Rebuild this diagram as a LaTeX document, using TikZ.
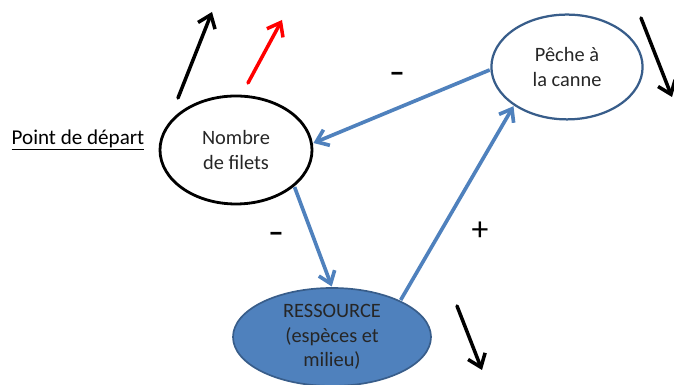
\documentclass[tikz,border=0pt]{standalone}
\usepackage{fontspec}
\setmainfont{Carlito}
\usetikzlibrary{arrows.meta,shapes.geometric}

\definecolor{linkblue}{HTML}{4F81BD}
\definecolor{rimblue}{HTML}{385D8A}

\tikzset{
    link/.style={ -{Straight Barb[length=8pt,width=12pt]}, line width=2.6pt, draw=linkblue, shorten <=0.5pt, shorten >=0.5pt,},
    trend/.style={ -{Straight Barb[length=8.5pt,width=13pt]}, line width=2.5pt, line cap=round,},
    bubble/.style={ ellipse, inner sep=0pt, align=center, text=black!85, font=\fontsize{14.5}{17.5}\selectfont,},
    sign/.style={ font=\fontsize{22}{22}\selectfont\bfseries,},
  }

\begin{document}
\begin{tikzpicture}
\useasboundingbox (0,0) rectangle (16.85,9.625);

% the three actors
  \node[bubble, draw=black, line width=2pt, minimum width=3.8cm, minimum height=2.7cm] (nombre) at (5.9,5.875) {Nombre\\de filets};
  \node[bubble, draw=rimblue, line width=1.6pt, minimum width=3.78cm, minimum height=2.62cm] (peche) at (14.175,7.95) {P\^eche \`a\\la canne};
  \node[bubble, draw=rimblue, fill=linkblue, line width=1.2pt, minimum width=4.95cm, minimum height=2.45cm] (ress) at (8.3,1.2) {RESSOURCE\\(esp\`eces et\\milieu)};

  \node[font=\fontsize{15}{18}\selectfont] (depart) at (1.95,6.125) {\underline{Point de d\'epart}};

% links between them
   \draw[link] (peche.182) -- (nombre.5);
   \draw[link] (nombre.-32) -- (ress.north);
   \draw[link] (ress.28) -- (peche.216);

   \node[sign] (moins1) at (9.925,7.7) {--};
   \node[sign] (moins2) at (6.9,3.7) {--};
   \node[sign, font=\fontsize{24}{24}\selectfont] (plus1) at (12.0,3.85) {+};

% trends
   \coordinate (up1a) at (4.45,7.175);
   \coordinate (up1b) at (5.3,9.325);
   \coordinate (up2a) at (6.2,7.55);
   \coordinate (up2b) at (7.05,9.125);
   \coordinate (down1a) at (16.025,9.175);
   \coordinate (down1b) at (16.8,7.2);
   \coordinate (down2a) at (11.425,1.975);
   \coordinate (down2b) at (12.05,0.375);

   \draw[trend] (up1a) -- (up1b);
   \draw[trend, draw=red] (up2a) -- (up2b);
   \draw[trend] (down1a) -- (down1b);
   \draw[trend] (down2a) -- (down2b);

\end{tikzpicture}
\end{document}
